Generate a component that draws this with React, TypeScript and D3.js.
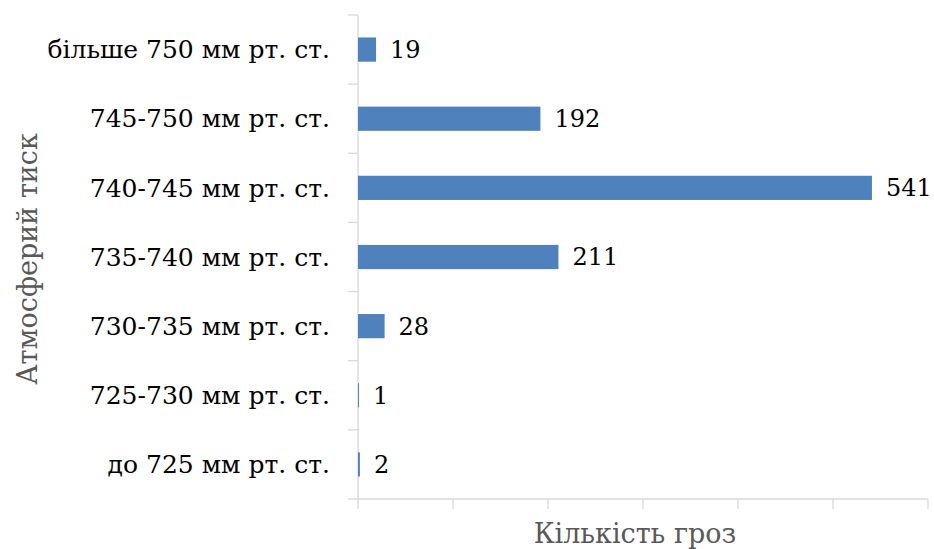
import React, { useEffect, useRef } from "react";
import * as d3 from "d3";

// categories top to bottom
const categories = [
  "більше 750 мм рт. ст.",
  "745-750 мм рт. ст.",
  "740-745 мм рт. ст.",
  "735-740 мм рт. ст.",
  "730-735 мм рт. ст.",
  "725-730 мм рт. ст.",
  "до 725 мм рт. ст.",
];
const counts = [19, 192, 541, 211, 28, 1, 2];
const xTicks = [0, 100, 200, 300, 400, 500, 600];

const W = 934;
const H = 549;

export default function App() {
  const ref = useRef<SVGSVGElement>(null);

  useEffect(() => {
    const svg = d3.select(ref.current);
    svg.selectAll("*").remove();

    const margin = { top: 15, right: 6, bottom: 50, left: 358 };
    const w = W - margin.left - margin.right;
    const h = H - margin.top - margin.bottom;
    const font = "DejaVu Serif";
    const fs = 25;

    const g = svg.append("g").attr("transform", `translate(${margin.left},${margin.top})`);

    const x = d3.scaleLinear().domain([0, 600]).range([0, w]);
    const y = d3.scaleBand().domain(categories).range([0, h]).paddingInner(0.65).paddingOuter(0.325);
    const yb = d3.scaleBand().domain(categories).range([0, h]);

    // y axis line + ticks at band boundaries
    g.append("line").attr("x1", 0).attr("x2", 0).attr("y1", 0).attr("y2", h)
      .attr("stroke", "#d9d9d9").attr("stroke-width", 1.3);
    const bounds = categories.map((c) => yb(c) as number).concat([h]);
    g.selectAll(".ytick").data(bounds).join("line").attr("class", "ytick")
      .attr("x1", -10).attr("x2", 0).attr("y1", (d) => d).attr("y2", (d) => d)
      .attr("stroke", "#d9d9d9").attr("stroke-width", 1.3);

    // x axis line + ticks
    g.append("line").attr("x1", 0).attr("x2", w).attr("y1", h).attr("y2", h)
      .attr("stroke", "#d9d9d9").attr("stroke-width", 1.3);
    g.selectAll(".xtick").data(xTicks).join("line").attr("class", "xtick")
      .attr("x1", (d) => x(d)).attr("x2", (d) => x(d)).attr("y1", h).attr("y2", h + 10)
      .attr("stroke", "#d9d9d9").attr("stroke-width", 1.3);

    // category labels
    g.selectAll(".ylab").data(categories).join("text").attr("class", "ylab")
      .attr("x", -28)
      .attr("y", (d) => (yb(d) as number) + yb.bandwidth() / 2)
      .attr("dy", "0.35em")
      .attr("text-anchor", "end")
      .style("font-family", font).attr("font-size", fs).attr("fill", "#000")
      .text((d) => d);

    // bars
    g.selectAll(".bar").data(categories).join("rect").attr("class", "bar")
      .attr("x", 0)
      .attr("y", (d) => y(d) as number)
      .attr("width", (d, i) => x(counts[i]))
      .attr("height", y.bandwidth())
      .attr("fill", "#4f81bd");

    // value labels
    g.selectAll(".val").data(categories).join("text").attr("class", "val")
      .attr("x", (d, i) => x(counts[i]) + 14)
      .attr("y", (d) => (yb(d) as number) + yb.bandwidth() / 2)
      .attr("dy", "0.35em")
      .style("font-family", font).attr("font-size", 24).attr("fill", "#000")
      .text((d, i) => counts[i]);

    // axis titles
    svg.append("text")
      .attr("x", 635).attr("y", 543)
      .attr("text-anchor", "middle")
      .style("font-family", font).attr("font-size", 27).attr("fill", "#595959")
      .text("Кількість гроз");
    svg.append("text")
      .attr("transform", `translate(37,259) rotate(-90)`)
      .attr("text-anchor", "middle")
      .style("font-family", font).attr("font-size", 27).attr("fill", "#595959")
      .text("Атмосферий тиск");
  }, []);

  return (
    <svg ref={ref} width={W} height={H} style={{ position: "absolute", left: 0, top: 0 }} />
  );
}
